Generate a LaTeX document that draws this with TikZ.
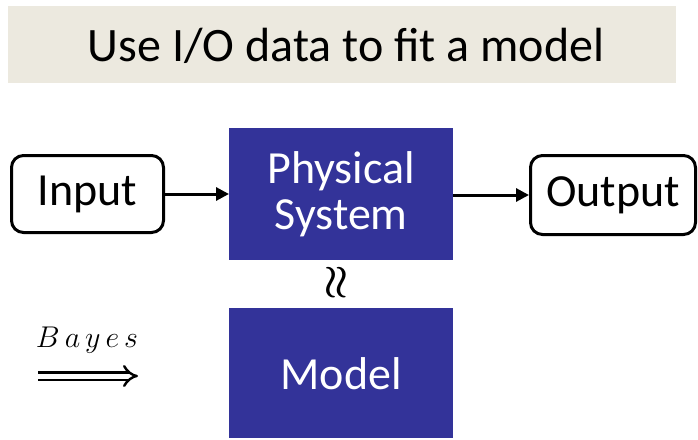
\RequirePackage{fix-cm}
\documentclass[tikz,border=0pt]{standalone}
\usepackage{fontspec}
\setmainfont{Carlito}
\usetikzlibrary{arrows.meta}
\definecolor{banner}{HTML}{ECE9DF}
\definecolor{sysblue}{HTML}{333399}
\tikzset{
  iobox/.style={draw=black, line width=3pt, rounded corners=12pt, fill=white},
  bluebox/.style={fill=sysblue, draw=none, text=white, align=center, font=\fontsize{46}{50}\selectfont},
  conn/.style={line width=3pt, -{Triangle[length=13pt,width=13pt]}},
  lbl/.style={font=\fontsize{46}{50}\selectfont}
}
\begin{document}
\begin{tikzpicture}[x=1pt,y=-1pt]
\useasboundingbox (0,0) rectangle (698,439);
\node[fill=banner, minimum width=668pt, minimum height=77pt, anchor=north west, inner sep=0pt] (title) at (8,6) {};
\node[font=\fontsize{48}{50}\selectfont] (titletext) at (346,46) {Use I/O data to fit a model};
\node[iobox, minimum width=152pt, minimum height=77pt, anchor=north west] (input) at (10,154) {};
\node[lbl] at (input.center) {Input};
\node[iobox, minimum width=165pt, minimum height=79pt, anchor=north west] (output) at (529,154) {};
\node[lbl] at (output.center) {Output};
\node[bluebox, minimum width=224pt, minimum height=132pt, anchor=north west, inner sep=0pt] (phys) at (229,128) {};
\node[bluebox] at (phys.center) {Physical\\[-4pt]System};
\node[bluebox, minimum width=224pt, minimum height=130pt, anchor=north west, inner sep=0pt] (model) at (229,308) {};
\node[bluebox] at (model.center) {Model};
\draw[conn] (input.east) -- (phys.west |- input.east);
\draw[conn] (phys.east |- output.west) -- (output.west);
\node[rotate=90, font=\fontsize{40}{40}\selectfont\boldmath, inner sep=0pt] (approx) at (337,283) {$\approx$};
\node[font=\fontsize{30}{32}\selectfont] (bayes) at (87,340) {$B\,a\,y\,e\,s$};
\coordinate (bstart) at (38,376);
\coordinate (bend) at (138,376);
\draw[double, double distance=5pt, line width=2.4pt, -{Implies[length=9pt]}] (bstart) -- (bend);
\end{tikzpicture}
\end{document}
